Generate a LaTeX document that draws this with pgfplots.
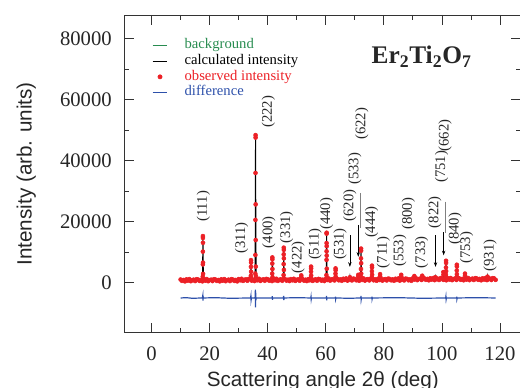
\documentclass[border=0pt]{standalone}
\usepackage{fontspec}
\setmainfont{Liberation Serif}
\setsansfont{Liberation Sans}
\usepackage{pgfplots}
\pgfplotsset{compat=1.18}
\usetikzlibrary{arrows.meta}
\definecolor{obsred}{RGB}{236,32,38}
\definecolor{bggreen}{RGB}{40,140,80}
\definecolor{diffblue}{RGB}{45,80,170}
\begin{document}
\begin{tikzpicture}
\begin{axis}[
  scale only axis, width=297.9pt, height=238.3pt,
  xmin=-9.4, xmax=127.4, ymin=-16400, ymax=87800,
  xtick={0,20,...,120}, minor x tick num=1,
  ytick={0,20000,40000,60000,80000}, minor y tick num=1,
  tick align=inside, major tick length=7.5pt, minor tick length=3.75pt,
  scaled y ticks=false,
  /pgf/number format/assume math mode=true,
  yticklabel style={/pgf/number format/fixed,/pgf/number format/1000 sep={}, inner sep=0pt, anchor=east, xshift=-9.2pt},
  xticklabel style={inner sep=0pt, anchor=north, yshift=-10.5pt},
  tick label style={font=\fontsize{15.5}{17}\selectfont, text=black!85},
  axis line style={draw=black!80, line width=0.6pt},
  every tick/.style={draw=black!80, line width=0.6pt},
  xlabel={Scattering angle 2θ (deg)},
  ylabel={Intensity (arb. units)},
  xlabel style={font=\sffamily\fontsize{15.5}{17}\selectfont, text=black!85, at={(axis description cs:0.5,-0.1695)}, anchor=base},
  ylabel style={font=\sffamily\fontsize{15.5}{17}\selectfont, text=black!85, at={(axis description cs:-0.2333,0.5)}, anchor=base},
  legend image code/.code={\draw[#1] (0pt,0pt) -- (11.2pt,0pt);},
  legend cell align=left,
  legend style={draw=none, fill=none, at={(axis description cs:0.069,0.93)}, anchor=north west,
    font=\fontsize{11}{12}\selectfont, inner sep=0pt, row sep=0pt,
    nodes={inner sep=0.4pt, text height=8pt, text depth=3pt},
    /tikz/every odd column/.append style={column sep=12pt}},
]
\addplot[bggreen, line width=0.8pt] coordinates {(10,750)(30,850)(60,950)(90,1100)(118.5,1250)};
\addlegendentry{\textcolor{bggreen}{background}}

\addplot[black, line width=0.8pt] coordinates {
(10,750)(17.49,800)(17.62,5600)(17.69,15300)(17.76,6300)(17.89,800)
(30,850)(34.05,845)(34.18,3100)(34.25,7400)(34.32,3500)(34.45,850)
(35.62,850)(35.75,17500)(35.82,48600)(35.89,20000)(36.02,860)
(41.40,880)(41.53,3500)(41.60,8300)(41.67,3900)(41.80,880)
(45.33,890)(45.46,4600)(45.53,11500)(45.60,5100)(45.73,890)
(51.36,910)(51.49,1400)(51.56,2400)(51.63,1500)(51.76,910)
(54.74,920)(54.87,2300)(54.94,5300)(55.01,2500)(55.14,920)
(60.09,935)(60.22,6300)(60.29,16400)(60.36,7100)(60.49,935)
(63.17,950)(63.30,2250)(63.37,4700)(63.44,2400)(63.57,950)
(68.12,975)(68.25,1250)(68.32,1800)(68.39,1300)(68.52,975)
(71.00,990)(71.13,1550)(71.20,2600)(71.27,1650)(71.40,1000)
(71.96,1000)(72.09,4600)(72.16,11200)(72.23,5100)(72.36,1000)
(75.71,1020)(75.84,2600)(75.91,5600)(75.98,2900)(76.11,1020)
(78.50,1030)(78.63,1650)(78.70,2800)(78.77,1750)(78.90,1030)
(85.78,1080)(85.91,1600)(85.98,2600)(86.05,1700)(86.18,1080)
(90.30,1100)(90.43,1500)(90.50,2200)(90.57,1550)(90.70,1100)
(93.02,1110)(93.15,1550)(93.22,2300)(93.29,1600)(93.42,1110)
(97.55,1140)(97.68,1380)(97.75,1800)(97.82,1400)(97.95,1140)
(100.30,1150)(100.43,2000)(100.50,3500)(100.57,2100)(100.70,1155)
(101.22,1160)(101.35,3400)(101.42,7200)(101.49,3800)(101.62,1160)
(104.93,1180)(105.06,2900)(105.13,5900)(105.20,3100)(105.33,1180)
(107.74,1190)(107.87,1850)(107.94,3000)(108.01,1950)(108.14,1190)
(115.51,1230)(115.64,1500)(115.71,2000)(115.78,1550)(115.91,1230)
(118.5,1250)};
\addlegendentry{\textcolor{black}{calculated intensity}}

\addplot[only marks, mark=*, mark size=1.5pt, color=obsred,
  legend image code/.code={\fill[obsred] (5.6pt,0pt) circle (1.6pt);}] coordinates {
(10.0,1050)(10.5,600)(11.0,900)(11.5,450)(12.0,1100)(12.5,700)(13.0,1200)(13.5,500)(14.0,850)(14.5,1000)(15.0,550)(15.5,1150)
(16.0,1050)(16.5,600)(17.0,900)(17.5,450)(18.0,1100)(18.5,700)(19.0,1200)(19.5,500)(20.0,850)(20.5,1000)(21.0,550)(21.5,1150)
(22.0,1050)(22.5,600)(23.0,900)(23.5,450)(24.0,1100)(24.5,700)(25.0,1200)(25.5,500)(26.0,850)(26.5,1000)(27.0,550)(27.5,1150)
(28.0,1050)(28.5,600)(29.0,900)(29.5,450)
(30.0,1200)(30.5,800)(31.0,1300)(31.5,600)(32.0,950)(32.5,1100)(33.0,650)(33.5,1250)(34.0,1150)(34.5,700)(35.0,1000)(35.5,550)
(36.0,1200)(36.5,800)(37.0,1300)(37.5,600)(38.0,950)(38.5,1100)(39.0,650)(39.5,1250)(40.0,1150)(40.5,700)(41.0,1000)(41.5,550)
(42.0,1200)(42.5,800)(43.0,1300)(43.5,600)(44.0,950)(44.5,1100)(45.0,650)(45.5,1250)(46.0,1150)(46.5,700)(47.0,1000)(47.5,550)
(48.0,1200)(48.5,800)(49.0,1300)(49.5,600)(50.0,950)(50.5,1100)(51.0,650)(51.5,1250)(52.0,1150)(52.5,700)(53.0,1000)(53.5,550)
(54.0,1200)(54.5,800)(55.0,1300)(55.5,600)(56.0,950)(56.5,1100)(57.0,650)(57.5,1250)(58.0,1150)(58.5,700)(59.0,1000)(59.5,550)
(60.0,1300)(60.5,900)(61.0,1400)(61.5,700)(62.0,1050)(62.5,1200)(63.0,750)(63.5,1350)(64.0,1250)(64.5,800)(65.0,1100)(65.5,650)
(66.0,1300)(66.5,900)(67.0,1400)(67.5,700)(68.0,1050)(68.5,1200)(69.0,750)(69.5,1350)(70.0,1250)(70.5,800)(71.0,1100)(71.5,650)
(72.0,1300)(72.5,900)(73.0,1400)(73.5,700)(74.0,1050)(74.5,1200)(75.0,750)(75.5,1350)(76.0,1250)(76.5,800)(77.0,1100)(77.5,650)
(78.0,1300)(78.5,900)(79.0,1400)(79.5,700)(80.0,1050)(80.5,1200)(81.0,750)(81.5,1350)(82.0,1250)(82.5,800)(83.0,1100)(83.5,650)
(84.0,1300)(84.5,900)(85.0,1400)(85.5,700)(86.0,1050)(86.5,1200)(87.0,750)(87.5,1350)(88.0,1250)(88.5,800)(89.0,1100)(89.5,650)
(90.0,1450)(90.5,1050)(91.0,1550)(91.5,850)(92.0,1200)(92.5,1350)(93.0,900)(93.5,1500)(94.0,1400)(94.5,950)(95.0,1250)(95.5,800)
(96.0,1450)(96.5,1050)(97.0,1550)(97.5,850)(98.0,1200)(98.5,1350)(99.0,900)(99.5,1500)(100.0,1400)(100.5,950)(101.0,1250)(101.5,800)
(102.0,1450)(102.5,1050)(103.0,1550)(103.5,850)(104.0,1200)(104.5,1350)(105.0,900)(105.5,1500)(106.0,1400)(106.5,950)(107.0,1250)(107.5,800)
(108.0,1450)(108.5,1050)(109.0,1550)(109.5,850)(110.0,1200)(110.5,1350)(111.0,900)(111.5,1500)(112.0,1400)(112.5,950)(113.0,1250)(113.5,800)
(114.0,1450)(114.5,1050)(115.0,1550)(115.5,850)(116.0,1200)(116.5,1350)(117.0,900)(117.5,1500)(118.0,1400)(118.5,950)
(17.69,15300)(17.70,14700)(17.71,13100)(17.67,10200)(17.72,6600)(17.66,6000)(17.74,2900)(17.63,2000)
(34.25,7400)(34.27,6600)(34.23,5200)(34.28,3600)(34.21,2300)(34.31,1500)
(35.82,48400)(35.83,47600)(35.80,36000)(35.85,25700)(35.78,20600)(35.87,14000)(35.76,9100)(35.89,5300)(35.73,3000)(35.93,2200)
(41.60,8300)(41.62,7700)(41.58,6300)(41.63,4500)(41.56,3000)(41.66,1800)
(45.53,11500)(45.55,10800)(45.51,9300)(45.56,8000)(45.50,6100)(45.58,4200)(45.47,2500)
(51.56,2400)(51.58,1800)
(54.94,5300)(54.96,4700)(54.92,3600)(54.97,2400)(54.90,1600)
(60.29,16100)(60.30,16400)(60.28,13000)(60.31,12000)(60.27,10300)(60.32,8900)(60.26,7500)(60.34,4600)(60.23,2500)
(63.37,4700)(63.39,4100)(63.35,3000)(63.40,2000)
(68.32,1800)
(71.20,2600)(71.22,2000)
(72.16,11200)(72.18,10500)(72.14,8000)(72.19,6400)(72.12,4500)(72.21,3000)(72.10,1900)
(75.91,5600)(75.93,5000)(75.89,3800)(75.95,2600)(75.87,1700)
(78.70,2800)(78.72,2100)
(85.98,2600)(86.00,2000)
(90.50,2200)(90.52,1700)
(93.22,2300)(93.24,1800)
(97.75,1800)
(100.50,3500)(100.52,2600)
(101.42,7200)(101.44,6500)(101.40,5000)(101.45,3800)(101.38,2600)(101.47,1800)
(105.13,5900)(105.15,5300)(105.11,4000)(105.16,2800)(105.09,1900)
(107.94,3000)(107.96,2300)
(115.71,2000)(115.73,1700)};
\addlegendentry{\textcolor{obsred}{observed intensity}}

\addplot[diffblue, line width=0.9pt] coordinates {
(10,-5000)(12,-4900)(14,-5100)(17.5,-5000)(17.65,-4200)(17.7,-5900)(17.75,-4500)(17.9,-5000)
(22,-4900)(27,-5100)(34.1,-5000)(34.22,-4300)(34.28,-5700)(34.4,-5000)
(35.65,-5000)(35.76,-2300)(35.82,-8100)(35.88,-3300)(35.95,-5700)(36.05,-5000)
(41.5,-5000)(41.58,-4400)(41.63,-5600)(41.7,-5000)
(45.4,-5000)(45.5,-4300)(45.56,-5700)(45.65,-5000)
(50,-4900)(54.85,-5000)(54.92,-4600)(54.98,-5400)(55.05,-5000)
(60.2,-5000)(60.26,-4300)(60.32,-5800)(60.4,-5000)
(63.3,-5000)(63.35,-4600)(63.4,-5400)(63.5,-5000)
(68,-5100)(72.05,-5000)(72.13,-4300)(72.19,-5600)(72.3,-5000)
(75.85,-5000)(75.9,-4600)(75.95,-5400)(76.05,-5000)
(85,-4900)(93,-5100)(101.3,-5000)(101.38,-4500)(101.45,-5500)(101.55,-5000)
(105.05,-5000)(105.1,-4600)(105.16,-5400)(105.25,-5000)(112,-4900)(118.5,-5000)};
\addlegendentry{\textcolor{diffblue}{difference}}

\node[anchor=base, font=\bfseries\fontsize{19}{20}\selectfont, text=black!85] at (axis cs:93,71900) {Er\textsubscript{2}Ti\textsubscript{2}O\textsubscript{7}};

\begin{scope}[every node/.style={rotate=90, anchor=west, inner sep=0pt, font=\fontsize{11}{12}\selectfont, text=black!85}]
\node at (axis cs:17.8,19900) {(111)};
\node at (axis cs:31.0,9400) {(311)};
\node at (axis cs:40.2,50700) {(222)};
\node at (axis cs:40.4,11300) {(400)};
\node at (axis cs:46.5,12900) {(331)};
\node at (axis cs:50.5,3100) {(422)};
\node at (axis cs:56.3,7400) {(511)};
\node at (axis cs:60.3,17300) {(440)};
\node at (axis cs:64.9,7400) {(531)};
\node at (axis cs:68.3,20000) {(620)};
\node at (axis cs:70.0,32000) {(533)};
\node at (axis cs:72.4,46800) {(622)};
\node at (axis cs:75.8,14600) {(444)};
\node at (axis cs:79.8,4700) {(711)};
\node at (axis cs:85.5,5200) {(553)};
\node at (axis cs:88.4,17300) {(800)};
\node at (axis cs:93.0,4700) {(733)};
\node at (axis cs:97.6,17800) {(822)};
\node at (axis cs:99.9,32700) {(751)};
\node at (axis cs:101.1,43000) {(662)};
\node at (axis cs:104.5,12400) {(840)};
\node at (axis cs:108.5,6100) {(753)};
\node at (axis cs:116.6,3600) {(931)};
\end{scope}

\draw[-{Stealth[length=3.5pt,width=2.5pt]}, line width=0.5pt] (axis cs:68.3,15600) -- (axis cs:68.3,5200);
\draw[gray, line width=0.8pt] (axis cs:71.8,29500) -- (axis cs:71.8,18000);
\draw[-{Stealth[length=3.5pt,width=2.5pt]}, line width=0.5pt] (axis cs:71.2,19000) -- (axis cs:71.2,8500);
\draw[-{Stealth[length=3.5pt,width=2.5pt]}, line width=0.5pt] (axis cs:97.8,15600) -- (axis cs:97.8,5200);
\draw[gray, line width=0.8pt] (axis cs:101.3,26600) -- (axis cs:101.3,16200);
\draw[-{Stealth[length=3.5pt,width=2.5pt]}, line width=0.5pt] (axis cs:100.6,16500) -- (axis cs:100.6,9000);

\coordinate (tl) at (rel axis cs:0,1);
\end{axis}
\pgfresetboundingbox
\path[use as bounding box] ([xshift=-93.2pt,yshift=11.25pt]tl) rectangle ++(390pt,-291pt);
\end{tikzpicture}
\end{document}
